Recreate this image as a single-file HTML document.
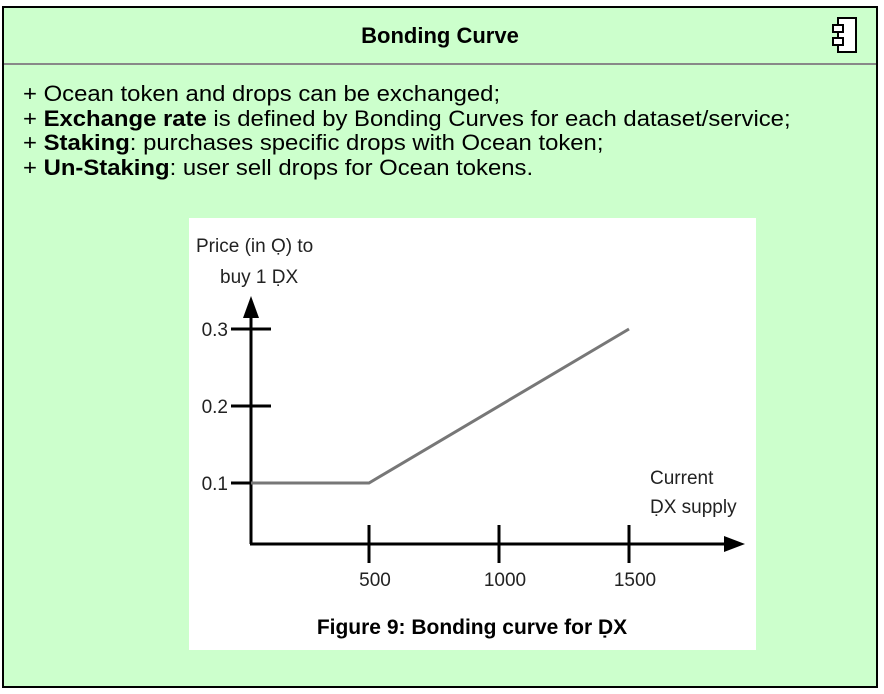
<!DOCTYPE html>
<html><head><meta charset="utf-8"><style>
body{margin:0;width:884px;height:694px;background:#fff;position:relative;overflow:hidden;font-family:"Liberation Sans",sans-serif}
.box{position:absolute;left:2px;top:6px;width:872px;height:678px;background:#ccffcc;border:2px solid #000}
.hdr{position:absolute;left:0;top:0;width:872px;height:55px;border-bottom:2px solid #888;text-align:center;font-weight:bold;font-size:22px;line-height:56px}
.txt{position:absolute;left:19px;top:74px;font-size:22px;line-height:24.5px;color:#000;transform-origin:0 0;transform:scaleX(1.085)}
</style></head><body>
<div class="box">
 <div class="hdr">Bonding Curve</div>
 <svg style="position:absolute;left:826px;top:8px" width="30" height="40">
  <rect x="8" y="2" width="18" height="34" fill="#fff" stroke="#000" stroke-width="2"/>
  <rect x="3" y="9" width="10" height="7" fill="#fff" stroke="#000" stroke-width="2"/>
  <rect x="3" y="22" width="10" height="7" fill="#fff" stroke="#000" stroke-width="2"/>
 </svg>
 <div class="txt">
  <div>+ Ocean token and drops can be exchanged;</div>
  <div>+ <b>Exchange rate</b> is defined by Bonding Curves for each dataset/service;</div>
  <div>+ <b>Staking</b>: purchases specific drops with Ocean token;</div>
  <div>+ <b>Un-Staking</b>: user sell drops for Ocean tokens.</div>
 </div>
</div>
<svg id="chart" style="position:absolute;left:0;top:0" width="884" height="694"></svg>
<script>
const xVals=[0,500,1500];
const yVals=[0.1,0.1,0.3];
const xTicks=[500,1000,1500];
const yTicks=[0.1,0.2,0.3];
const NS="http://www.w3.org/2000/svg";
const svg=document.getElementById('chart');
function X(v){return 239+v*0.26;}
function Y(v){return 560-v*770;}
const AX=251,AY=544;
function mk(t,a,p){const e=document.createElementNS(NS,t);for(const k in a)e.setAttribute(k,a[k]);(p||svg).appendChild(e);return e;}
let bg=mk('rect',{x:189,y:218,width:567,height:432,fill:'#fff'});


const F='font-family:"Liberation Sans",sans-serif;';
let t1=mk('text',{x:196,y:252,'font-size':19,fill:'#222',style:F});t1.textContent='Price (in Ọ) to';


let t2=mk('text',{x:220,y:283,'font-size':19,fill:'#222',style:F});t2.textContent='buy 1 ḌX';


let ya=mk('line',{x1:AX,y1:AY,x2:AX,y2:315,stroke:'#000','stroke-width':3});


let yar=mk('polygon',{points:`${AX-8},318 ${AX+8},318 ${AX},296`,fill:'#000'});


let xa=mk('line',{x1:AX-1,y1:AY,x2:728,y2:AY,stroke:'#000','stroke-width':3});


let xar=mk('polygon',{points:`724,536 724,552 745,544`,fill:'#000'});


yTicks.forEach(v=>{
 let l=mk('line',{x1:AX-20,y1:Y(v),x2:AX+20,y2:Y(v),stroke:'#000','stroke-width':3});
 
 
 let t=mk('text',{x:AX-23,y:Y(v)+7,'font-size':19,'text-anchor':'end',fill:'#222',style:F});t.textContent=v.toFixed(1);
 
 
});
xTicks.forEach(v=>{
 let l=mk('line',{x1:X(v),y1:AY-19,x2:X(v),y2:AY+19,stroke:'#000','stroke-width':3});
 
 
 let t=mk('text',{x:X(v)+6,y:586,'font-size':19,'text-anchor':'middle',fill:'#222',style:F});t.textContent=v;
 
 
});
const pts=xVals.map((v,i)=>Math.max(X(v),AX)+','+Y(yVals[i])).join(' ');
let ln=mk('polyline',{points:pts,fill:'none',stroke:'#777','stroke-width':3});


let c1=mk('text',{x:650,y:484,'font-size':19,fill:'#222',style:F});c1.textContent='Current';


let c2=mk('text',{x:650,y:513,'font-size':19,fill:'#222',style:F});c2.textContent='ḌX supply';


let cap=mk('text',{x:472,y:634,'font-size':21,'font-weight':'bold','text-anchor':'middle',fill:'#000',style:F});cap.textContent='Figure 9: Bonding curve for ḌX';


</script>
</body></html>
